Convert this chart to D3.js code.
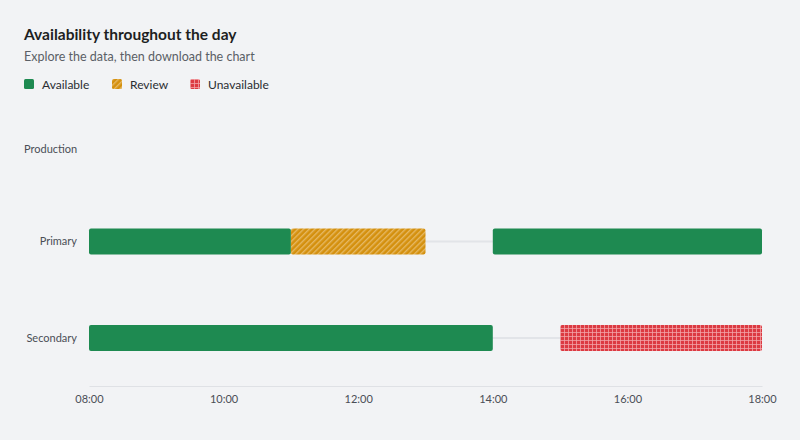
<!DOCTYPE html>
<html>
<head>
<meta charset="utf-8">
<script src="https://cdn.jsdelivr.net/npm/d3@7.9.0/dist/d3.min.js"></script>
<style>
  html, body { margin: 0; padding: 0; background: #f2f3f5; }
  svg { display: block; font-family: Lato, "Open Sans", sans-serif; }
</style>
</head>
<body>
<svg id="chart" width="800" height="440"></svg>
<script>
// data
const rows = ['Primary', 'Secondary'];
const groupLabel = 'Production';
const statuses = ['Available', 'Review', 'Unavailable'];
const segStart = ['08:00', '11:00', '14:00', '08:00', '15:00'];
const segEnd   = ['11:00', '13:00', '18:00', '14:00', '18:00'];
const segRow   = ['Primary', 'Primary', 'Primary', 'Secondary', 'Secondary'];
const segStatus = ['Available', 'Review', 'Available', 'Available', 'Unavailable'];
const tickLabels = ['08:00', '10:00', '12:00', '14:00', '16:00', '18:00'];

const toHours = s => { const [h, m] = s.split(':'); return +h + (+m) / 60; };
const segments = segStart.map((s, i) => ({
  row: segRow[i], status: segStatus[i], start: toHours(s), end: toHours(segEnd[i])
}));

const svg = d3.select('#chart');
const defs = svg.append('defs');

// stripes for review
const stripe = defs.append('pattern')
  .attr('id', 'pat-review')
  .attr('patternUnits', 'userSpaceOnUse')
  .attr('width', 4).attr('height', 4)
  .attr('patternTransform', 'rotate(45)');
stripe.append('rect').attr('width', 4).attr('height', 4).attr('fill', '#d4900e');
stripe.append('rect').attr('width', 1.4).attr('height', 4).attr('fill', '#e6b863');

// gingham-ish check for unavailable
const check = defs.append('pattern')
  .attr('id', 'pat-unavail')
  .attr('patternUnits', 'userSpaceOnUse')
  .attr('width', 4).attr('height', 4);
check.append('rect').attr('width', 4).attr('height', 4).attr('fill', '#dc3a42');
check.append('rect').attr('width', 4).attr('height', 1).attr('fill', '#f2a7aa').attr('opacity', 0.75);
check.append('rect').attr('width', 1).attr('height', 4).attr('fill', '#f2a7aa').attr('opacity', 0.75);

const fills = d3.scaleOrdinal()
  .domain(statuses)
  .range(['#1e8a51', 'url(#pat-review)', 'url(#pat-unavail)']);

// title
svg.append('text').attr('x', 24).attr('y', 40)
  .attr('font-size', 15.5).attr('font-weight', 700).attr('fill', '#1d1f22')
  .text('Availability throughout the day');
svg.append('text').attr('x', 24).attr('y', 61)
  .attr('font-size', 12.5).attr('fill', '#5b5f66')
  .text('Explore the data, then download the chart');

// legend
const legendX = [24, 112, 190];
const leg = svg.append('g').selectAll('g')
  .data(statuses)
  .join('g')
    .attr('transform', (d, i) => `translate(${legendX[i]},79)`);
leg.append('rect').attr('width', 10).attr('height', 10).attr('rx', 1.5)
  .attr('fill', d => fills(d));
leg.append('text').attr('x', 18).attr('y', 9.5)
  .attr('font-size', 12).attr('fill', '#2a2d31')
  .text(d => d);

// scales
const x = d3.scaleLinear().domain([8, 18]).range([89, 762]);
const y = d3.scalePoint().domain(rows).range([241.5, 338]);
const barH = 26;

// group label
svg.append('text').attr('x', 24).attr('y', y(rows[0]) - 92)
  .attr('dy', '0.35em')
  .attr('font-size', 11).attr('fill', '#4a4e55')
  .text(groupLabel);

// row labels
svg.append('g').selectAll('text')
  .data(rows)
  .join('text')
    .attr('x', 77).attr('y', d => y(d)).attr('dy', '0.35em')
    .attr('text-anchor', 'end')
    .attr('font-size', 11).attr('fill', '#4a4e55')
    .text(d => d);

// tracks
svg.append('g').selectAll('line')
  .data(rows)
  .join('line')
    .attr('x1', x(8)).attr('x2', x(18))
    .attr('y1', d => y(d)).attr('y2', d => y(d))
    .attr('stroke', '#e2e4e8').attr('stroke-width', 2);

// bars
svg.append('g').selectAll('rect')
  .data(segments)
  .join('rect')
    .attr('x', d => x(d.start))
    .attr('y', d => y(d.row) - barH / 2)
    .attr('width', d => x(d.end) - x(d.start))
    .attr('height', barH)
    .attr('rx', 2)
    .attr('fill', d => fills(d.status));

// x axis
const axis = svg.append('g')
  .attr('transform', 'translate(0,386)')
  .call(d3.axisBottom(x)
    .tickValues(tickLabels.map(toHours))
    .tickFormat((d, i) => tickLabels[i])
    .tickSize(0).tickPadding(9));
axis.select('.domain').attr('stroke', '#dfe1e5');
axis.selectAll('text')
  .attr('font-family', 'Lato, sans-serif')
  .attr('font-size', 11).attr('fill', '#4a4e55');
</script>
</body>
</html>
